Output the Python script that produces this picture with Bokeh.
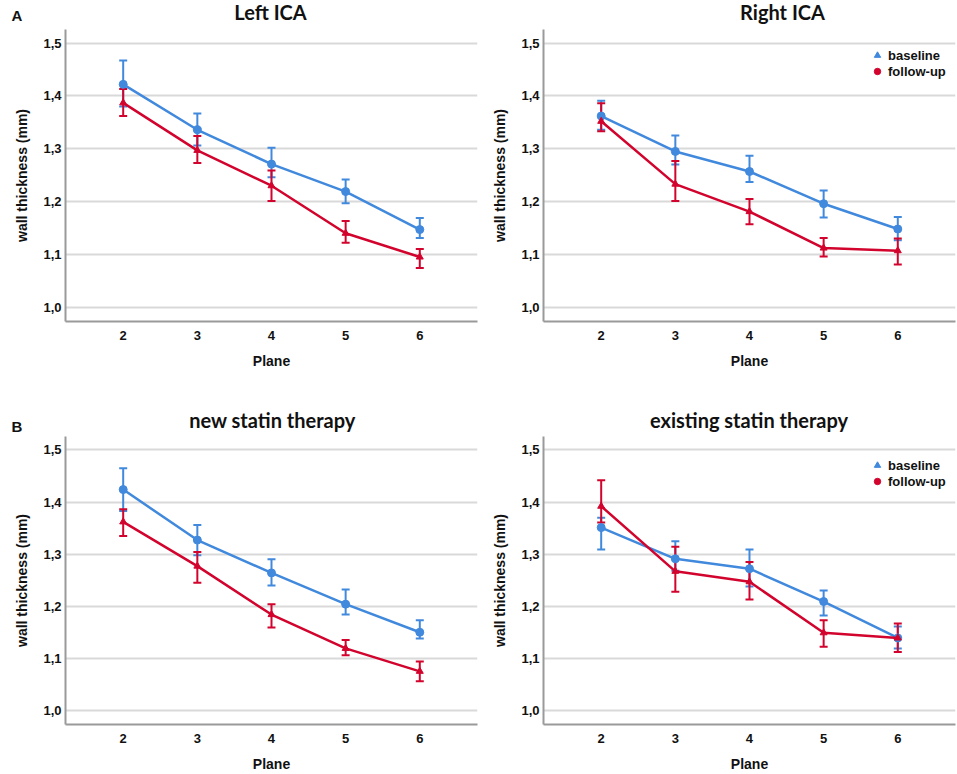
from bokeh.plotting import figure
from bokeh.models import (Range1d, FixedTicker, Whisker, TeeHead, Label, Legend,
                          LegendItem, ColumnDataSource)
from bokeh.layouts import column, row
from bokeh.embed import file_html
from bokeh.resources import INLINE

# ---------------- data ----------------
planes = [2, 3, 4, 5, 6]
y_ticks = [1.0, 1.1, 1.2, 1.3, 1.4, 1.5]
y_tick_labels = ["1,0", "1,1", "1,2", "1,3", "1,4", "1,5"]
series_names = ["baseline", "follow-up"]
panel_titles = ["Left ICA", "Right ICA", "new statin therapy", "existing statin therapy"]
panel_letters = ["A", "", "B", ""]

left_base_mean = [1.422, 1.336, 1.271, 1.219, 1.147]
left_base_low = [1.380, 1.306, 1.246, 1.197, 1.131]
left_base_high = [1.467, 1.367, 1.302, 1.242, 1.169]
left_fu_mean = [1.387, 1.297, 1.230, 1.140, 1.095]
left_fu_low = [1.362, 1.273, 1.201, 1.122, 1.074]
left_fu_high = [1.413, 1.324, 1.259, 1.163, 1.110]

right_base_mean = [1.362, 1.295, 1.257, 1.196, 1.148]
right_base_low = [1.336, 1.270, 1.237, 1.170, 1.127]
right_base_high = [1.391, 1.325, 1.287, 1.221, 1.171]
right_fu_mean = [1.352, 1.233, 1.181, 1.112, 1.107]
right_fu_low = [1.333, 1.201, 1.157, 1.096, 1.081]
right_fu_high = [1.386, 1.277, 1.205, 1.131, 1.130]

new_base_mean = [1.424, 1.327, 1.264, 1.204, 1.150]
new_base_low = [1.383, 1.298, 1.240, 1.184, 1.138]
new_base_high = [1.465, 1.356, 1.290, 1.232, 1.173]
new_fu_mean = [1.362, 1.277, 1.184, 1.119, 1.075]
new_fu_low = [1.335, 1.245, 1.159, 1.106, 1.056]
new_fu_high = [1.386, 1.304, 1.204, 1.135, 1.094]

ex_base_mean = [1.351, 1.291, 1.272, 1.209, 1.139]
ex_base_low = [1.309, 1.268, 1.238, 1.182, 1.119]
ex_base_high = [1.370, 1.325, 1.309, 1.230, 1.161]
ex_fu_mean = [1.392, 1.267, 1.247, 1.149, 1.139]
ex_fu_low = [1.361, 1.228, 1.213, 1.122, 1.112]
ex_fu_high = [1.442, 1.314, 1.285, 1.173, 1.167]

BLUE = "#4189dd"
RED = "#d2042d"
TEXT = "#111111"
TICK_FONT = "Liberation Sans"
TITLE_FONT = "Lato"
X_PER_UNIT = 74.15
X_START = 1.222


def title_strip(width, height, title, title_x, title_y, letter="", letter_y=0):
    t = figure(width=width, height=height, output_backend="svg", toolbar_location=None,
               x_range=Range1d(0, 1), y_range=Range1d(0, 1),
               x_axis_location=None, y_axis_location=None,
               min_border=0, outline_line_color=None,
               background_fill_color="white", border_fill_color="white")
    t.grid.visible = False
    t.add_layout(Label(x=title_x, y=title_y, x_units="screen", y_units="screen", text=title,
                       text_align="center", text_baseline="middle", text_font=TITLE_FONT,
                       text_font_style="bold", text_font_size="20px", text_color=TEXT))
    if letter:
        t.add_layout(Label(x=16.5, y=letter_y, x_units="screen", y_units="screen",
                           text=letter, text_align="center", text_baseline="middle",
                           text_font=TICK_FONT, text_font_style="bold",
                           text_font_size="15px", text_color=TEXT))
    return t


def make_panel(bm, bl, bh, fm, fl, fh, width, height,
               b_left, b_right, b_top, b_bottom, legend_top=None):
    fw = width - b_left - b_right
    fh_ = height - b_top - b_bottom
    p = figure(width=width, height=height, output_backend="svg", toolbar_location=None,
               x_range=Range1d(X_START, X_START + fw / X_PER_UNIT),
               y_range=Range1d(0.9729, 1.5259),
               min_border_left=b_left, min_border_right=b_right,
               min_border_top=b_top, min_border_bottom=b_bottom,
               background_fill_color="white", border_fill_color="white",
               outline_line_color=None)
    p.xgrid.grid_line_color = None
    p.ygrid.grid_line_color = "#d9d9d9"
    p.ygrid.grid_line_width = 2
    p.yaxis.ticker = FixedTicker(ticks=y_ticks)
    p.yaxis.major_label_overrides = {t: l for t, l in zip(y_ticks, y_tick_labels)}
    p.xaxis.ticker = FixedTicker(ticks=planes)
    for ax in (p.xaxis, p.yaxis):
        ax.axis_line_color = "#9a9a9a"
        ax.axis_line_width = 2
        ax.major_tick_line_color = None
        ax.minor_tick_line_color = None
        ax.major_tick_out = 0
        ax.major_tick_in = 0
        ax.minor_tick_out = 0
        ax.major_label_text_font = TICK_FONT
        ax.major_label_text_font_style = "bold"
        ax.major_label_text_font_size = "13px"
        ax.major_label_text_color = TEXT
        ax.axis_label_text_font = TICK_FONT
        ax.axis_label_text_font_style = "bold"
        ax.axis_label_text_font_size = "14px"
        ax.axis_label_text_color = TEXT
    p.xaxis.axis_label = "Plane"
    p.yaxis.axis_label = "wall thickness (mm)"
    p.yaxis.major_label_standoff = 4
    p.yaxis.axis_label_standoff = 10
    p.xaxis.major_label_standoff = 9
    p.xaxis.axis_label_standoff = 10

    src_b = ColumnDataSource(dict(x=planes, y=bm, lo=bl, hi=bh))
    src_f = ColumnDataSource(dict(x=planes, y=fm, lo=fl, hi=fh))
    for src, col in ((src_b, BLUE), (src_f, RED)):
        w = Whisker(source=src, base="x", lower="lo", upper="hi", dimension="height",
                    line_color=col, line_width=2,
                    upper_head=TeeHead(size=8, line_color=col, line_width=2),
                    lower_head=TeeHead(size=8, line_color=col, line_width=2),
                    level="underlay")
        p.add_layout(w)
    p.line("x", "y", source=src_b, line_color=BLUE, line_width=2.5)
    p.scatter("x", "y", source=src_b, marker="circle", size=8, fill_color=BLUE, line_color=BLUE)
    p.line("x", "y", source=src_f, line_color=RED, line_width=2.5)
    p.scatter("x", "y", source=src_f, marker="triangle", size=7, fill_color=RED, line_color=RED)

    if legend_top is not None:
        nan = float("nan")
        r1 = p.scatter(x=[nan], y=[nan], marker="triangle", size=9,
                       fill_color=BLUE, line_color=BLUE)
        r2 = p.scatter(x=[nan], y=[nan], marker="circle", size=10,
                       fill_color=RED, line_color=RED)
        leg = Legend(items=[LegendItem(label=series_names[0], renderers=[r1]),
                            LegendItem(label=series_names[1], renderers=[r2])],
                     location=(324, fh_ - legend_top - 32),
                     glyph_width=20, glyph_height=16, label_standoff=1, spacing=0,
                     padding=0, margin=0, background_fill_alpha=0, border_line_color=None,
                     label_text_font=TICK_FONT, label_text_font_style="bold",
                     label_text_font_size="13px", label_text_color=TEXT,
                     label_height=14)
        p.add_layout(leg)
    return p


# top row: titles strip (0..29), plots (29..400)
t1 = title_strip(480, 29, panel_titles[0], 270, 18, panel_letters[0], 14)
t2 = title_strip(477, 29, panel_titles[1], 302, 18)
p1 = make_panel(left_base_mean, left_base_low, left_base_high,
                left_fu_mean, left_fu_low, left_fu_high, 480, 371, 65, 3, 0, 79)
p2 = make_panel(right_base_mean, right_base_low, right_base_high,
                right_fu_mean, right_fu_low, right_fu_high, 477, 371, 63, 2, 0, 79,
                legend_top=18)
# bottom row: titles strip (400..436), plots (436..774)
t3 = title_strip(480, 36, panel_titles[2], 272, 17, panel_letters[2], 10.2)
t4 = title_strip(477, 36, panel_titles[3], 268.5, 17)
p3 = make_panel(new_base_mean, new_base_low, new_base_high,
                new_fu_mean, new_fu_low, new_fu_high, 480, 338, 65, 3, 0, 46)
p4 = make_panel(ex_base_mean, ex_base_low, ex_base_high,
                ex_fu_mean, ex_fu_low, ex_fu_high, 477, 338, 63, 2, 0, 46,
                legend_top=25)

layout = column(row(t1, t2), row(p1, p2), row(t3, t4), row(p3, p4))
open("out.html", "w").write(file_html(layout, INLINE))
